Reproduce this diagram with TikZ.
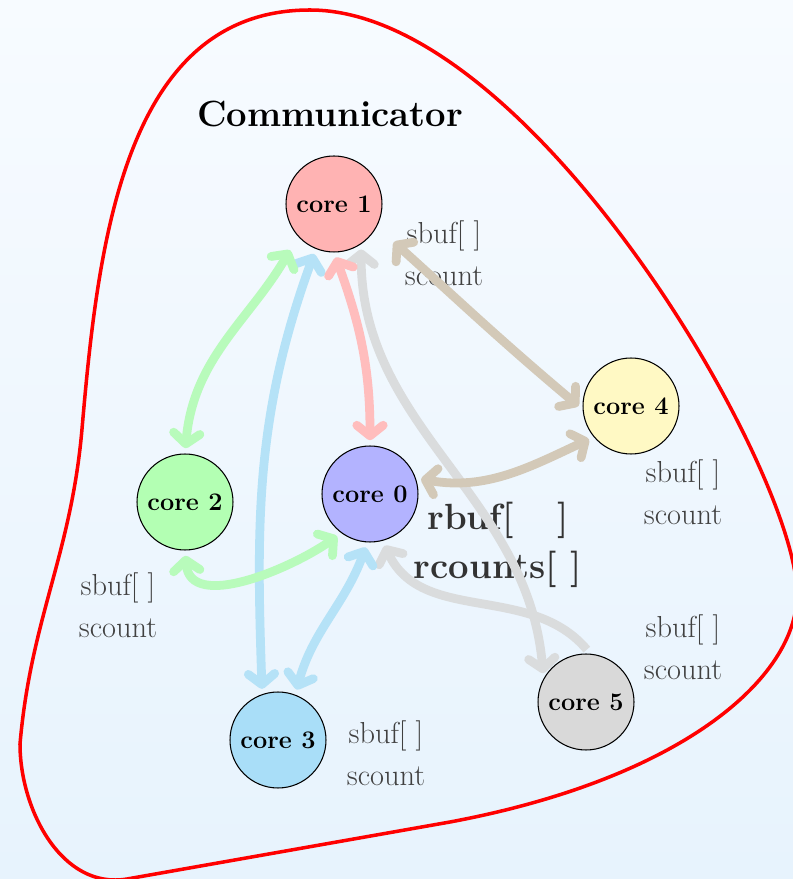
\documentclass[tikz,border=0pt]{standalone}
\usepackage{tikz}
\usetikzlibrary{arrows.meta,positioning}

\definecolor{topblue}{HTML}{F7FBFF}
\definecolor{botblue}{HTML}{E7F3FD}
\definecolor{fillzero}{HTML}{B3B3FF}
\definecolor{fillone}{HTML}{FFB3B3}
\definecolor{filltwo}{HTML}{B3FFB3}
\definecolor{fillthree}{HTML}{A9DEF8}
\definecolor{fillfour}{HTML}{FFF9C4}
\definecolor{fillfive}{HTML}{D9D9D9}
\definecolor{msggreen}{HTML}{B8FBBB}
\definecolor{msgpink}{HTML}{FFBDBD}
\definecolor{msgblue}{HTML}{B5E2F7}
\definecolor{msggray}{HTML}{DADCDD}
\definecolor{msgtan}{HTML}{D3C9B8}

\begin{document}
\begin{tikzpicture}[x=0.02cm, y=0.02cm,
    core/.style={circle, draw, line width=0.6pt, minimum size=1.92cm, inner sep=0pt, font=\Large\bfseries},
    buf/.style={align=center, font=\LARGE, text=black!75},
    msg/.style={line width=5pt, shorten <=3pt, shorten >=3pt},
    >={Straight Barb[round, length=6pt, width=15pt]}]
  \useasboundingbox (0,0) rectangle (793,879);
  \fill[top color=topblue, bottom color=botblue] (0,0) rectangle (793,879);

  % the communicator
  \draw[red, line width=2pt] (310,869) .. controls (530,869) and (797,409) .. (797,285)
    .. controls (797,200) and (680,100) .. (450,57) -- (127,0)
    .. controls (62,-11) and (20,69) .. (20,135)
    .. controls (31,261) and (71,324) .. (82,450)
    .. controls (98,635) and (124,869) .. (310,869) -- cycle;
  \node[font=\huge\bfseries] (comm) at (330,765) {Communicator};

  \node[core, fill=fillone] (core1) at (334,675) {core 1};
  \node[core, fill=fillzero] (core0) at (370,385) {core 0};
  \node[core, fill=filltwo] (core2) at (185,377) {core 2};
  \node[core, fill=fillthree] (core3) at (278,139) {core 3};
  \node[core, fill=fillfour] (core4) at (631,473) {core 4};
  \node[core, fill=fillfive] (core5) at (586,177) {core 5};

  \node[buf] (buf1) at (444,626) {sbuf[ ]\\[2pt]scount};
  \node[buf] (buf2) at (118,274) {sbuf[ ]\\[2pt]scount};
  \node[buf] (buf3) at (386,126) {sbuf[ ]\\[2pt]scount};
  \node[buf] (buf4) at (683,387) {sbuf[ ]\\[2pt]scount};
  \node[buf] (buf5) at (683,232) {sbuf[ ]\\[2pt]scount};
  \node[align=center, font=\huge\bfseries, text=black!80] (rbuf) at (498,334) {rbuf[\hspace{1.2em}]\\[3pt]rcounts[ ]};

  % messages
  \draw[msg, <->, msggray] (core1.304) to[out=-90, in=95] (core5.151);
  \draw[msg, ->, msggray] (core5.85) to[out=130, in=-65] (core0.285);
  \draw[msg, <->, msgtan, shorten <=13pt] (core1.332) to[out=-42, in=140] (core4.184);
  \draw[msg, <->, msgtan] (core0.19) to[out=-10, in=205] (core4.220);
  \draw[msg, <->, msgblue] (core1.248) to[out=250, in=92] (core3.109);
  \draw[msg, <->, msgblue] (core0.267) to[out=250, in=75] (core3.69);
  \draw[msg, <->, msggreen, shorten <=9pt] (core1.222) to[out=240, in=85] (core2.north);
  \draw[msg, <->, msggreen] (core2.south) to[out=-85, in=215] (core0.234);
  \draw[msg, <->, msgpink] (core1.south) to[out=-70, in=90] (core0.north);
\end{tikzpicture}
\end{document}
